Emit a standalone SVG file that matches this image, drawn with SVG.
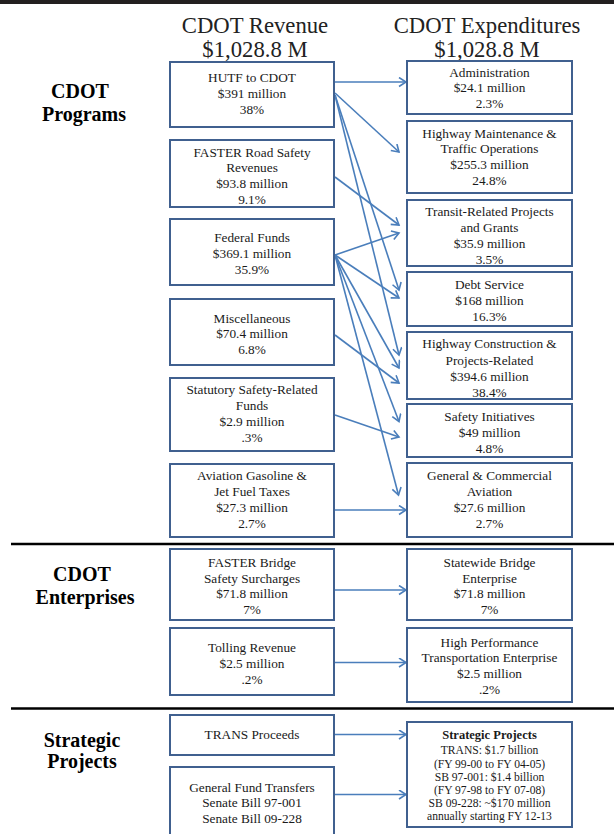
<svg xmlns="http://www.w3.org/2000/svg" width="614" height="834" viewBox="0 0 614 834">
<style>
.bx{fill:#fff;stroke:#40608f;stroke-width:2}
.t{font-family:"Liberation Serif","Times New Roman",serif;font-size:13.3px;fill:#1a1a1a;text-anchor:middle}
.ts{font-family:"Liberation Serif","Times New Roman",serif;font-size:11.6px;fill:#1a1a1a;text-anchor:middle}
.h{font-family:"Liberation Serif","Times New Roman",serif;font-size:22.7px;fill:#222;text-anchor:middle}
.sec{font-family:"Liberation Serif","Times New Roman",serif;font-size:20px;font-weight:bold;fill:#000;text-anchor:middle}
.c{fill:none;stroke:#4a7ebb;stroke-width:1.6}
.sep{stroke:#000;stroke-width:2.5}
</style>
<defs>
<marker id="ah" markerUnits="userSpaceOnUse" markerWidth="12" markerHeight="12" refX="8" refY="5" orient="auto">
<path d="M1,0.5 L8,5 L1,9.5" fill="none" stroke="#4a7ebb" stroke-width="1.6"/>
</marker>
</defs>
<rect x="0" y="0" width="614" height="4" fill="#231f20"/>

<g id="headers">
<text class="h" x="255" y="32.5">CDOT Revenue</text>
<text class="h" x="255" y="56.5">$1,028.8 M</text>
<text class="h" x="487" y="32.5">CDOT Expenditures</text>
<text class="h" x="487" y="56.5">$1,028.8 M</text>
</g>

<g id="section-labels">
<text class="sec" x="80" y="98">CDOT</text>
<text class="sec" x="84" y="121">Programs</text>
<text class="sec" x="82" y="581">CDOT</text>
<text class="sec" x="85" y="604">Enterprises</text>
<text class="sec" x="82" y="747">Strategic</text>
<text class="sec" x="82" y="768">Projects</text>
</g>

<g id="separators">
<line class="sep" x1="11" y1="544" x2="614" y2="544"/>
<line class="sep" x1="11" y1="708.5" x2="614" y2="708.5"/>
</g>

<g id="connectors">
<line class="c" x1="335" y1="82" x2="406" y2="82" marker-end="url(#ah)"/>
<line class="c" x1="335" y1="93" x2="399" y2="152" marker-end="url(#ah)"/>
<line class="c" x1="335" y1="95" x2="399" y2="290" marker-end="url(#ah)"/>
<line class="c" x1="335" y1="95" x2="399" y2="355" marker-end="url(#ah)"/>
<line class="c" x1="335" y1="177" x2="399" y2="225" marker-end="url(#ah)"/>
<line class="c" x1="335" y1="255" x2="399" y2="233" marker-end="url(#ah)"/>
<line class="c" x1="335" y1="255" x2="399" y2="298" marker-end="url(#ah)"/>
<line class="c" x1="335" y1="255" x2="399" y2="368" marker-end="url(#ah)"/>
<line class="c" x1="335" y1="255" x2="399" y2="421.5" marker-end="url(#ah)"/>
<line class="c" x1="335" y1="255" x2="398.5" y2="495" marker-end="url(#ah)"/>
<line class="c" x1="335" y1="335" x2="399" y2="383" marker-end="url(#ah)"/>
<line class="c" x1="335" y1="415" x2="399" y2="437" marker-end="url(#ah)"/>
<line class="c" x1="335" y1="510" x2="406" y2="510" marker-end="url(#ah)"/>
<line class="c" x1="335" y1="590" x2="406" y2="590" marker-end="url(#ah)"/>
<line class="c" x1="335" y1="662.5" x2="406" y2="662.5" marker-end="url(#ah)"/>
<line class="c" x1="335" y1="734.5" x2="406" y2="734.5" marker-end="url(#ah)"/>
<line class="c" x1="335" y1="794.5" x2="406" y2="794.5" marker-end="url(#ah)"/>
</g>

<g id="rev-hutf"><rect class="bx" x="170" y="62" width="164" height="65"/>
<text class="t" x="252" y="82">HUTF to CDOT</text><text class="t" x="252" y="98">$391 million</text><text class="t" x="252" y="113.5">38%</text></g>

<g id="rev-faster-road"><rect class="bx" x="170" y="140" width="164" height="67"/>
<text class="t" x="252" y="156.5">FASTER Road Safety</text><text class="t" x="252" y="172.3">Revenues</text><text class="t" x="252" y="188">$93.8 million</text><text class="t" x="252" y="203.5">9.1%</text>
<line x1="170" y1="207" x2="334" y2="207" stroke="#40608f" stroke-width="2"/></g>

<g id="rev-federal"><rect class="bx" x="170" y="219" width="164" height="66"/>
<text class="t" x="252" y="242.3">Federal Funds</text><text class="t" x="252" y="258.3">$369.1 million</text><text class="t" x="252" y="274.3">35.9%</text></g>

<g id="rev-misc"><rect class="bx" x="170" y="299" width="164" height="66"/>
<text class="t" x="252" y="322.7">Miscellaneous</text><text class="t" x="252" y="338.3">$70.4 million</text><text class="t" x="252" y="354">6.8%</text></g>

<g id="rev-statutory"><rect class="bx" x="170" y="378" width="164" height="73"/>
<text class="t" x="252" y="394.3">Statutory Safety-Related</text><text class="t" x="252" y="410">Funds</text><text class="t" x="252" y="426">$2.9 million</text><text class="t" x="252" y="442.3">.3%</text></g>

<g id="rev-aviation"><rect class="bx" x="170" y="464" width="164" height="73"/>
<text class="t" x="252" y="480">Aviation Gasoline &amp;</text><text class="t" x="252" y="496">Jet Fuel Taxes</text><text class="t" x="252" y="511.7">$27.3 million</text><text class="t" x="252" y="528.3">2.7%</text></g>

<g id="exp-admin"><rect class="bx" x="407" y="61" width="165" height="53"/>
<text class="t" x="489.5" y="76.7">Administration</text><text class="t" x="489.5" y="92.3">$24.1 million</text><text class="t" x="489.5" y="108.3">2.3%</text></g>

<g id="exp-maint"><rect class="bx" x="407" y="121" width="165" height="72"/>
<text class="t" x="489.5" y="137.7">Highway Maintenance &amp;</text><text class="t" x="489.5" y="153.3">Traffic Operations</text><text class="t" x="489.5" y="169">$255.3 million</text><text class="t" x="489.5" y="185">24.8%</text></g>

<g id="exp-transit"><rect class="bx" x="407" y="200" width="165" height="66"/>
<text class="t" x="489.5" y="216">Transit-Related Projects</text><text class="t" x="489.5" y="231.7">and Grants</text><text class="t" x="489.5" y="247.7">$35.9 million</text><text class="t" x="489.5" y="264">3.5%</text>
<line x1="407" y1="266" x2="572" y2="266" stroke="#40608f" stroke-width="2"/></g>

<g id="exp-debt"><rect class="bx" x="407" y="272" width="165" height="54"/>
<text class="t" x="489.5" y="289">Debt Service</text><text class="t" x="489.5" y="305">$168 million</text><text class="t" x="489.5" y="320.7">16.3%</text></g>

<g id="exp-construction"><rect class="bx" x="407" y="332" width="165" height="67"/>
<text class="t" x="489.5" y="348.3">Highway Construction &amp;</text><text class="t" x="489.5" y="365">Projects-Related</text><text class="t" x="489.5" y="380.7">$394.6 million</text><text class="t" x="489.5" y="396.5">38.4%</text>
<line x1="407" y1="399" x2="572" y2="399" stroke="#40608f" stroke-width="2"/></g>

<g id="exp-safety"><rect class="bx" x="407" y="404" width="165" height="53"/>
<text class="t" x="489.5" y="421">Safety Initiatives</text><text class="t" x="489.5" y="436.7">$49 million</text><text class="t" x="489.5" y="452.5">4.8%</text></g>

<g id="exp-aviation"><rect class="bx" x="407" y="463" width="165" height="74"/>
<text class="t" x="489.5" y="480">General &amp; Commercial</text><text class="t" x="489.5" y="496">Aviation</text><text class="t" x="489.5" y="512.3">$27.6 million</text><text class="t" x="489.5" y="528.3">2.7%</text></g>

<g id="rev-faster-bridge"><rect class="bx" x="170" y="549" width="164" height="71"/>
<text class="t" x="252" y="566.7">FASTER Bridge</text><text class="t" x="252" y="582.7">Safety Surcharges</text><text class="t" x="252" y="598.3">$71.8 million</text><text class="t" x="252" y="614">7%</text></g>

<g id="rev-tolling"><rect class="bx" x="170" y="628" width="164" height="67"/>
<text class="t" x="252" y="652.3">Tolling Revenue</text><text class="t" x="252" y="668.3">$2.5 million</text><text class="t" x="252" y="684">.2%</text></g>

<g id="exp-bridge"><rect class="bx" x="407" y="549" width="165" height="71"/>
<text class="t" x="489.5" y="566.7">Statewide Bridge</text><text class="t" x="489.5" y="582.7">Enterprise</text><text class="t" x="489.5" y="598.3">$71.8 million</text><text class="t" x="489.5" y="614">7%</text></g>

<g id="exp-hpte"><rect class="bx" x="407" y="628" width="165" height="74"/>
<text class="t" x="489.5" y="646.7">High Performance</text><text class="t" x="489.5" y="662.3">Transportation Enterprise</text><text class="t" x="489.5" y="678.3">$2.5 million</text><text class="t" x="489.5" y="694">.2%</text></g>

<g id="rev-trans"><rect class="bx" x="170" y="715" width="164" height="40"/>
<text class="t" x="252" y="738.5">TRANS Proceeds</text></g>

<g id="rev-general-fund"><rect class="bx" x="170" y="767" width="164" height="72"/>
<text class="t" x="252" y="791.7">General Fund Transfers</text><text class="t" x="252" y="807.3">Senate Bill 97-001</text><text class="t" x="252" y="822.7">Senate Bill 09-228</text></g>

<g id="exp-strategic"><rect class="bx" x="407" y="722" width="165" height="105"/>
<text class="ts" x="489.5" y="739.3" style="font-weight:bold;font-size:12.5px">Strategic Projects</text>
<text class="ts" x="489.5" y="754.3">TRANS: $1.7 billion</text>
<text class="ts" x="489.5" y="767.5">(FY 99-00 to FY 04-05)</text>
<text class="ts" x="489.5" y="780.5">SB 97-001: $1.4 billion</text>
<text class="ts" x="489.5" y="793.5">(FY 97-98 to FY 07-08)</text>
<text class="ts" x="489.5" y="806.7">SB 09-228: ~$170 million</text>
<text class="ts" x="489.5" y="820">annually starting FY 12-13</text></g>
</svg>
